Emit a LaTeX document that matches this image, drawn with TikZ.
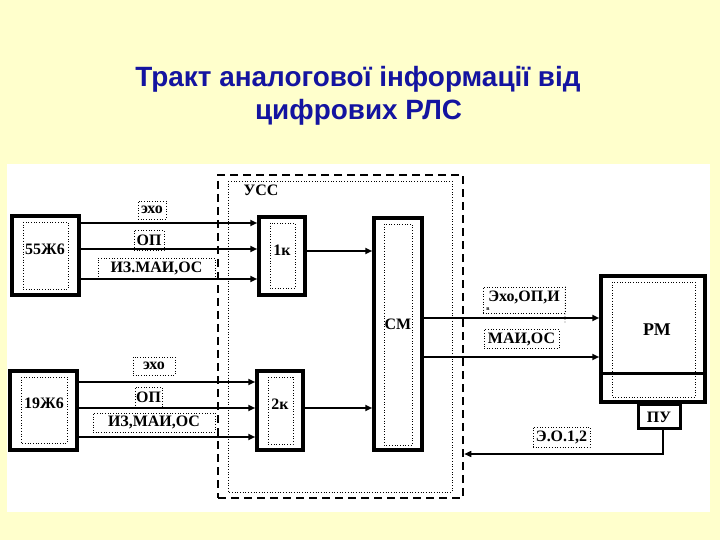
\documentclass[tikz,border=0pt]{standalone}
\usepackage{fontspec}
\setmainfont{Liberation Serif}
\newfontfamily\titlefont{Liberation Sans}
\usetikzlibrary{arrows.meta}
\definecolor{bgyellow}{HTML}{FFFFCC}
\definecolor{titleblue}{HTML}{1414A0}
\newcommand{\lblfont}{\fontsize{16}{18}\selectfont\bfseries}
\begin{document}
\begin{tikzpicture}[x=1bp,y=-1bp,
  blk/.style={draw, line width=3.5bp, fill=white, inner sep=0pt},
  innerdot/.style={draw, dotted, line width=0.7bp},
  lbl/.style={draw, dotted, line width=0.7bp, inner sep=0pt, font=\lblfont},
  txt/.style={font=\lblfont, inner sep=0pt},
  arr/.style={line width=1.8bp, -{Triangle[length=7bp,width=6bp]}},
  ttl/.style={font=\titlefont\bfseries\fontsize{28}{34}\selectfont, text=titleblue, inner sep=0pt, anchor=base}
]
\fill[bgyellow] (0,0) rectangle (720,540);
\useasboundingbox (0,0) rectangle (720,540);
\fill[white] (7,164) rectangle (710,512);

% title
\node[ttl] (title1) at (358,87) {Тракт аналогової інформації від};
\node[ttl] (title2) at (358.5,120) {цифрових РЛС};

% USS dashed frame
\node[draw, dash pattern=on 8bp off 5bp, line width=2.5bp, minimum width=245bp, minimum height=323bp, inner sep=0pt] (uss) at (340.5,336.5) {};
\draw[innerdot] (228,181) rectangle (452,492);
\node[txt] (usslbl) at (261,190) {УСС};

% blocks
\node[blk, minimum width=67bp, minimum height=79bp] (b55) at (45.5,255.5) {};
\node[blk, minimum width=67bp, minimum height=79bp] (b19) at (43.5,410.5) {};
\node[blk, minimum width=46bp, minimum height=78bp] (k1) at (282,256) {};
\node[blk, minimum width=46bp, minimum height=79bp] (k2) at (280,410.5) {};
\node[blk, minimum width=48bp, minimum height=232bp] (cm) at (398,334) {};
\node[blk, minimum width=104bp, minimum height=126bp] (rm) at (653,339) {};
\node[blk, line width=3bp, minimum width=42bp, minimum height=24bp] (pu) at (659,416) {};
\draw[line width=3bp] (rm.west |- 0,373) -- (rm.east |- 0,373);

% inner dotted frames
\draw[innerdot] (23,222) rectangle (68,289);
\draw[innerdot] (21,377) rectangle (67,443);
\draw[innerdot] (270,223) rectangle (295,288);
\draw[innerdot] (268,377) rectangle (293,444);
\draw[innerdot] (384,224) rectangle (412,445);
\draw[innerdot] (612,282) rectangle (695,397);

% block texts
\node[txt] (t55) at (45,249) {55Ж6};
\node[txt] (t19) at (44,403) {19Ж6};
\node[txt] (t1k) at (282,250) {1к};
\node[txt] (t2k) at (280,404) {2к};
\node[txt] (tcm) at (398,324) {СМ};
\node[txt, font=\fontsize{18}{20}\selectfont\bfseries] (trm) at (657,330) {РМ};
\node[txt] (tpu) at (659,417) {ПУ};

% connectors 55Zh6 -> 1k
\draw[arr] (b55.east |- 0,223) -- (k1.west |- 0,223);
\draw[arr] (b55.east |- 0,249) -- (k1.west |- 0,249);
\draw[arr] (b55.east |- 0,279) -- (k1.west |- 0,279);
% 19Zh6 -> 2k
\draw[arr] (b19.east |- 0,382) -- (k2.west |- 0,382);
\draw[arr] (b19.east |- 0,408) -- (k2.west |- 0,408);
\draw[arr] (b19.east |- 0,437) -- (k2.west |- 0,437);
% to CM
\draw[arr] (k1.east |- 0,251) -- (cm.west |- 0,251);
\draw[arr] (k2.east |- 0,408) -- (cm.west |- 0,408);
% CM -> RM
\draw[arr] (cm.east |- 0,318) -- (rm.west |- 0,318);
\draw[arr] (cm.east |- 0,357) -- (rm.west |- 0,357);
% PU -> USS
\draw[arr, line width=1.5bp] (pu.south -| 663,0) |- (uss.east |- 0,454);

% connector labels
\node[lbl, minimum width=28bp, minimum height=18bp] (l1) at (152,210) {эхо};
\node[lbl, minimum width=30bp, minimum height=20bp] (l2) at (149,240) {ОП};
\node[lbl, minimum width=117bp, minimum height=20bp] (l3) at (156.5,268) {ИЗ.МАИ,ОС};
\node[lbl, minimum width=42bp, minimum height=18bp] (l4) at (154,366) {эхо};
\node[lbl, minimum width=27bp, minimum height=20bp] (l5) at (148.5,397) {ОП};
\node[lbl, minimum width=122bp, minimum height=19bp] (l6) at (154,422.5) {ИЗ,МАИ,ОС};
\node[lbl, minimum width=82bp, minimum height=26bp, text depth=8bp] (l7) at (524,300) {Эхо,ОП,И};
\node[font=\fontsize{6}{6}\selectfont\bfseries, inner sep=0pt] (l7b) at (488,309) {в};
\draw[innerdot] (l7.north east) -- (565,323);
\node[lbl, minimum width=75bp, minimum height=19bp] (l8) at (521.5,339) {МАИ,ОС};
\node[lbl, minimum width=57bp, minimum height=20bp] (l9) at (561.5,437) {Э.О.1,2};
\end{tikzpicture}
\end{document}
